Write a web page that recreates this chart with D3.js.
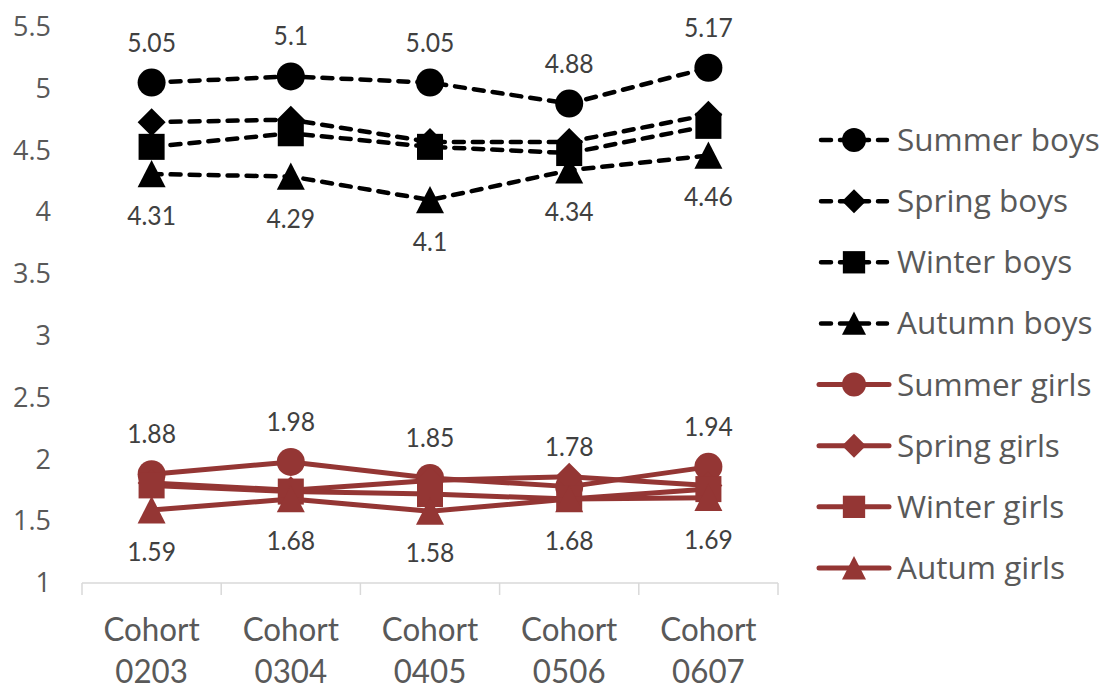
<!DOCTYPE html>
<html>
<head>
<meta charset="utf-8">
<script src="https://cdn.jsdelivr.net/npm/d3@7"></script>
<style>
  html, body { margin: 0; padding: 0; background: #fff; }
  svg { display: block; }
</style>
</head>
<body>
<svg id="chart" width="1107" height="690"></svg>
<script>
// ---------------- DATA ----------------
const categories = ["0203", "0304", "0405", "0506", "0607"];
const categoryPrefix = "Cohort";
const yTicks = [1, 1.5, 2, 2.5, 3, 3.5, 4, 4.5, 5, 5.5];

const summerBoys  = [5.05, 5.1, 5.05, 4.88, 5.17];
const springBoys  = [4.73, 4.75, 4.57, 4.57, 4.79];
const winterBoys  = [4.53, 4.64, 4.53, 4.48, 4.70];
const autumnBoys  = [4.31, 4.29, 4.1, 4.34, 4.46];
const summerGirls = [1.88, 1.98, 1.85, 1.78, 1.94];
const springGirls = [1.81, 1.75, 1.83, 1.86, 1.79];
const winterGirls = [1.79, 1.74, 1.72, 1.68, 1.76];
const autumnGirls = [1.59, 1.68, 1.58, 1.68, 1.69];

const seriesNames = ["Summer boys", "Spring boys", "Winter boys", "Autumn boys",
                     "Summer girls", "Spring girls", "Winter girls", "Autum girls"];

// ---------------- STYLE ----------------
const BOY = "#000000", GIRL = "#943634";
const series = [
  { name: seriesNames[0], values: summerBoys,  color: BOY,  dashed: true,  shape: "circle",   label: "above" },
  { name: seriesNames[1], values: springBoys,  color: BOY,  dashed: true,  shape: "diamond",  label: null },
  { name: seriesNames[2], values: winterBoys,  color: BOY,  dashed: true,  shape: "square",   label: null },
  { name: seriesNames[3], values: autumnBoys,  color: BOY,  dashed: true,  shape: "triangle", label: "below" },
  { name: seriesNames[4], values: summerGirls, color: GIRL, dashed: false, shape: "circle",   label: "above" },
  { name: seriesNames[5], values: springGirls, color: GIRL, dashed: false, shape: "diamond",  label: null },
  { name: seriesNames[6], values: winterGirls, color: GIRL, dashed: false, shape: "square",   label: null },
  { name: seriesNames[7], values: autumnGirls, color: GIRL, dashed: false, shape: "triangle", label: "below" }
];

function shapePath(shape, s) {
  const h = s / 2;
  switch (shape) {
    case "circle":
      return `M${-h},0A${h},${h} 0 1,0 ${h},0A${h},${h} 0 1,0 ${-h},0Z`;
    case "diamond":
      return `M0,${-h}L${h},0L0,${h}L${-h},0Z`;
    case "square": {
      const q = h * 0.93;
      return `M${-q},${-q}L${q},${-q}L${q},${q}L${-q},${q}Z`;
    }
    case "triangle":
      return `M0,${-h}L${h},${h * 0.95}L${-h},${h * 0.95}Z`;
  }
}

const svg = d3.select("#chart");
const FONT = "'Open Sans', 'Noto Sans', sans-serif";
const FONT2 = "Lato, 'Open Sans', sans-serif";

// ---------------- SCALES ----------------
const x = d3.scaleBand().domain(categories).range([82, 778]).padding(0);
const y = d3.scaleLinear().domain([1, 5.5]).range([583, 27]);
const cx = c => x(c) + x.bandwidth() / 2;

// ---------------- Y AXIS ----------------
const yAxis = d3.axisLeft(y).tickValues(yTicks).tickSize(0).tickPadding(31)
  .tickFormat(d => String(d));
const gy = svg.append("g").attr("transform", "translate(82,0)").call(yAxis);
gy.select(".domain").remove();
gy.selectAll("text")
  .attr("font-family", FONT)
  .attr("font-size", 27)
  .attr("fill", "#595959");

// ---------------- X AXIS ----------------
const gx = svg.append("g");
gx.append("line")
  .attr("x1", x.range()[0]).attr("x2", x.range()[1])
  .attr("y1", y(1)).attr("y2", y(1))
  .attr("stroke", "#d9d9d9").attr("stroke-width", 1.5);
const boundaries = categories.map(c => x(c)).concat([x.range()[1]]);
gx.selectAll("line.tick").data(boundaries).join("line")
  .attr("class", "tick")
  .attr("x1", d => d).attr("x2", d => d)
  .attr("y1", y(1)).attr("y2", y(1) + 12)
  .attr("stroke", "#d9d9d9").attr("stroke-width", 1.5);

[categoryPrefix, null].forEach((txt, li) => {
  gx.selectAll("text.cat" + li).data(categories).join("text")
    .attr("class", "cat" + li)
    .attr("transform", c => `translate(${cx(c)},${li === 0 ? 641 : 683}) scale(0.95,1)`)
    .attr("text-anchor", "middle")
    .attr("font-family", FONT2)
    .attr("font-size", 33)
    .attr("fill", "#595959")
    .text(c => txt === null ? c : txt);
});

// ---------------- SERIES ----------------
const line = d3.line().x((d, i) => cx(categories[i])).y(d => y(d));
const MARK = 28;

series.forEach(s => {
  const g = svg.append("g");
  g.append("path")
    .attr("d", line(s.values))
    .attr("fill", "none")
    .attr("stroke", s.color)
    .attr("stroke-width", s.dashed ? 4.5 : 5)
    .attr("stroke-linecap", s.dashed ? "round" : "butt")
    .attr("stroke-dasharray", s.dashed ? "10,9" : null)
    .attr("stroke-linejoin", "round");
  g.selectAll("path.mk").data(s.values).join("path")
    .attr("class", "mk")
    .attr("transform", (d, i) => `translate(${cx(categories[i])},${y(d)})`)
    .attr("d", shapePath(s.shape, MARK))
    .attr("fill", s.color);
});

// ---------------- DATA LABELS ----------------
series.filter(s => s.label).forEach(s => {
  svg.append("g").selectAll("text").data(s.values).join("text")
    .attr("transform", (d, i) => `translate(${cx(categories[i])},${y(d) + (s.label === "above" ? -31 : 51)}) scale(0.95,1)`)
    .attr("text-anchor", "middle")
    .attr("font-family", FONT2)
    .attr("font-size", 26)
    .attr("fill", "#404040")
    .text(d => String(d));
});

// ---------------- LEGEND ----------------
const legendY = d3.scalePoint().domain(seriesNames).range([140, 568]);
const lg = svg.append("g");
series.forEach(s => {
  const ly = legendY(s.name);
  const e = lg.append("g").attr("transform", `translate(0,${ly})`);
  e.append("line")
    .attr("x1", s.dashed ? 821 : 819).attr("x2", s.dashed ? 887 : 889)
    .attr("y1", 0).attr("y2", 0)
    .attr("stroke", s.color)
    .attr("stroke-width", s.dashed ? 4.5 : 5)
    .attr("stroke-linecap", "round")
    .attr("stroke-dasharray", s.dashed ? "10,9" : null);
  e.append("path")
    .attr("transform", "translate(854,0)")
    .attr("d", shapePath(s.shape, 24))
    .attr("fill", s.color);
  e.append("text")
    .attr("x", 897).attr("y", 0)
    .attr("dy", "0.35em")
    .attr("font-family", FONT)
    .attr("font-size", 31.5)
    .attr("fill", "#595959")
    .text(s.name);
});
</script>
</body>
</html>
